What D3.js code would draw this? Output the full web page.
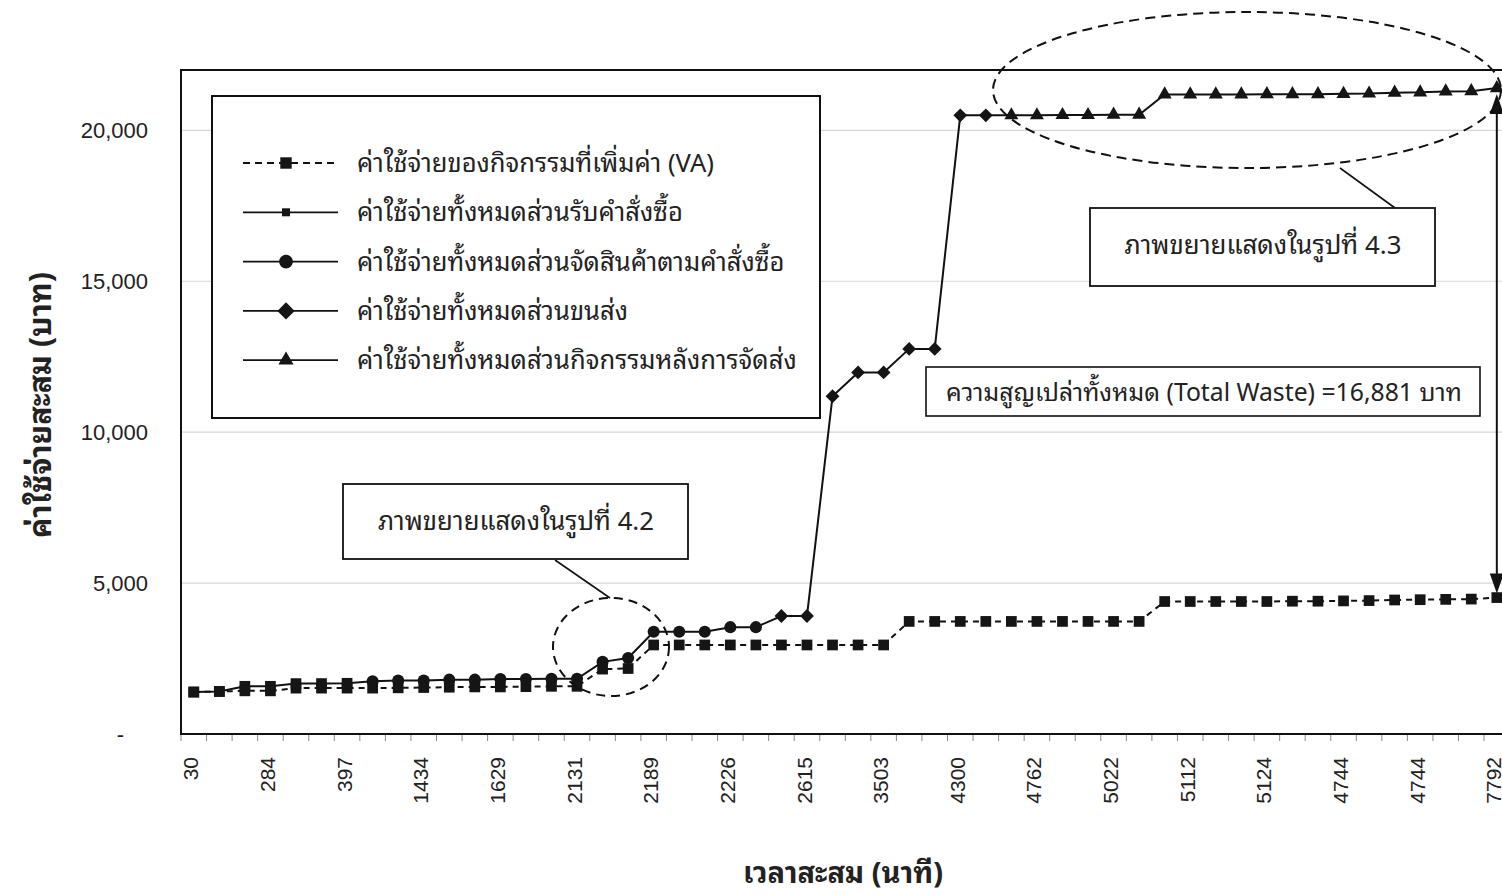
<!DOCTYPE html>
<html>
<head>
<meta charset="utf-8">
<script src="https://cdn.jsdelivr.net/npm/d3@7"></script>
<style>
  html, body { margin: 0; padding: 0; background: #fff; }
  svg { display: block; }
  .thai { font-family: "Noto Sans Thai Looped", "Noto Sans Thai", "Loma", "Garuda", "Tlwg Typo", "Norasi", "Liberation Sans", sans-serif; }
  .num { font-family: "Liberation Sans", Arial, sans-serif; }
</style>
</head>
<body>
<svg id="chart" width="1502" height="895"></svg>
<script>
// ---------------- DATA ----------------
const xTickLabels = ["30","284","397","1434","1629","2131","2189","2226","2615","3503","4300","4762","5022","5112","5124","4744","4744","7792"];
const categoryCount = 52;           // one category per point, labels every 3rd
const labelEvery = 3;

const yTickValues = [0, 5000, 10000, 15000, 20000];

// Value-added cost (dashed, square markers)
const vaCost = [1390,1410,1430,1430,1520,1520,1520,1520,1530,1540,1550,1560,1560,1570,1580,1580,
                2150,2170,
                2950,2950,2950,2950,2950,2950,2950,2950,2950,2950,
                3730,3730,3730,3730,3730,3730,3730,3730,3730,3730,
                4390,4390,4390,4390,4390,4400,4400,4410,4420,4440,4450,4460,4470,4520];

// Total cost, split by activity (each continues the previous one)
const orderStart = 0;
const orderCost = [1390,1410,1580,1580,1670,1670,1680];
const pickStart = 7;
const pickCost = [1750,1770,1770,1800,1800,1820,1820,1830,1830,2390,2520,3390,3390,3390,3540,3540];
const shipStart = 23;
const shipCost = [3910,3910,11190,11980,11980,12760,12760,20500,20500];
const postStart = 32;
const postCost = [20500,20500,20510,20510,20520,20520,21190,21190,21190,21190,21200,21200,21200,21210,21220,21250,21260,21290,21300,21400];

const legendLabels = [
  "ค่าใช้จ่ายของกิจกรรมที่เพิ่มค่า (VA)",
  "ค่าใช้จ่ายทั้งหมดส่วนรับคำสั่งซื้อ",
  "ค่าใช้จ่ายทั้งหมดส่วนจัดสินค้าตามคำสั่งซื้อ",
  "ค่าใช้จ่ายทั้งหมดส่วนขนส่ง",
  "ค่าใช้จ่ายทั้งหมดส่วนกิจกรรมหลังการจัดส่ง"
];
const xTitle = "เวลาสะสม (นาที)";
const yTitle = "ค่าใช้จ่ายสะสม (บาท)";
const note42 = "ภาพขยายแสดงในรูปที่ 4.2";
const note43 = "ภาพขยายแสดงในรูปที่ 4.3";
const noteWaste = "ความสูญเปล่าทั้งหมด (Total Waste) =16,881 บาท";

// ---------------- HELPERS ----------------
// scale a text's font-size so that it spans the given width
function fitWidth(sel, width) {
  const node = sel.node();
  const fs = parseFloat(sel.attr("font-size"));
  const w = node.getComputedTextLength();
  if (w > 0) sel.attr("font-size", (fs * width / w).toFixed(2));
  return parseFloat(sel.attr("font-size"));
}

// ---------------- LAYOUT ----------------
const svg = d3.select("#chart");
svg.append("rect").attr("width", 1502).attr("height", 895).attr("fill", "#fff");

const plot = { left: 181, top: 70, bottom: 734, bandW: 25.55 };
plot.right = plot.left + categoryCount * plot.bandW;

const x = d3.scaleBand().domain(d3.range(categoryCount)).range([plot.left, plot.right]).padding(0);
const cx = i => x(i) + x.bandwidth() / 2;
const y = d3.scaleLinear().domain([0, 22000]).range([plot.bottom, plot.top]);

// gridlines
svg.append("g").selectAll("line").data(yTickValues.filter(d => d > 0)).join("line")
  .attr("x1", plot.left).attr("x2", plot.right)
  .attr("y1", d => y(d)).attr("y2", d => y(d))
  .attr("stroke", "#d6d6d6").attr("stroke-width", 1.2);

// plot frame
svg.append("rect")
  .attr("x", plot.left).attr("y", plot.top)
  .attr("width", plot.right - plot.left).attr("height", plot.bottom - plot.top)
  .attr("fill", "none").attr("stroke", "#111").attr("stroke-width", 2);

// x minor ticks at category boundaries
svg.append("g").selectAll("line").data(d3.range(categoryCount + 1)).join("line")
  .attr("x1", i => plot.left + i * x.step()).attr("x2", i => plot.left + i * x.step())
  .attr("y1", plot.bottom + 1).attr("y2", plot.bottom + 7)
  .attr("stroke", "#888").attr("stroke-width", 1);

// x axis labels
const xAxis = d3.axisBottom(x)
  .tickValues(d3.range(0, categoryCount, labelEvery))
  .tickFormat(i => xTickLabels[i / labelEvery])
  .tickSize(0);
const gx = svg.append("g").attr("transform", `translate(0,${plot.bottom})`).call(xAxis);
gx.select(".domain").remove();
gx.selectAll("text")
  .attr("class", "num")
  .attr("font-size", 21).attr("fill", "#222")
  .attr("transform", "rotate(-90)")
  .attr("text-anchor", "end")
  .attr("x", -23).attr("y", -3).attr("dy", "0.36em");

// y axis labels
const yAxis = d3.axisLeft(y).tickValues(yTickValues)
  .tickFormat(d => d === 0 ? "-" : d3.format(",")(d)).tickSize(0).tickPadding(33);
const gy = svg.append("g").attr("transform", `translate(${plot.left},0)`).call(yAxis);
gy.select(".domain").remove();
gy.selectAll("text").attr("class", "num").attr("font-size", 22).attr("fill", "#222");
gy.selectAll("text").filter(d => d === 0).attr("dx", -24);

// axis titles
const xt = svg.append("text").attr("class", "thai").attr("x", 843).attr("y", 883)
  .attr("text-anchor", "middle").attr("font-size", 26).attr("font-weight", "bold").attr("fill", "#222")
  .text(xTitle);
fitWidth(xt, 200);
const yt = svg.append("text").attr("class", "thai")
  .attr("transform", "translate(40,405) rotate(-90)").attr("dy", "0.35em")
  .attr("text-anchor", "middle").attr("font-size", 26).attr("font-weight", "bold").attr("fill", "#222")
  .text(yTitle);
fitWidth(yt, 266);

// ---------------- SERIES ----------------
const lineGen = d3.line().x(d => cx(d.i)).y(d => y(d.v));

// VA dashed line
const vaPts = vaCost.map((v, i) => ({ i, v }));
svg.append("path").datum(vaPts).attr("d", lineGen)
  .attr("fill", "none").attr("stroke", "#111").attr("stroke-width", 2).attr("stroke-dasharray", "6,5");

// Total cost continuous line built from the four segments
const segments = [
  { start: orderStart, values: orderCost, shape: "square", size: 115 },
  { start: pickStart, values: pickCost, shape: "circle", size: 115 },
  { start: shipStart, values: shipCost, shape: "diamond", size: 95 },
  { start: postStart, values: postCost, shape: "triangle", size: 85 }
];
const shapePath = (shape, size) => {
  if (shape === "square" || shape === "diamond") return d3.symbol(d3.symbolSquare, size)();
  if (shape === "circle") return d3.symbol(d3.symbolCircle, size)();
  return d3.symbol(d3.symbolTriangle, size)();
};
const shapeRot = shape => shape === "diamond" ? " rotate(45)" : "";

const totalPts = segments.flatMap(s => s.values.map((v, k) => ({ i: s.start + k, v, s })));
svg.append("path").datum(totalPts).attr("d", lineGen)
  .attr("fill", "none").attr("stroke", "#111").attr("stroke-width", 2);

// markers
svg.append("g").selectAll("path").data(vaPts).join("path")
  .attr("transform", d => `translate(${cx(d.i)},${y(d.v)})`)
  .attr("d", shapePath("square", 115)).attr("fill", "#151515");
svg.append("g").selectAll("path").data(totalPts).join("path")
  .attr("transform", d => `translate(${cx(d.i)},${y(d.v)})` + shapeRot(d.s.shape))
  .attr("d", d => shapePath(d.s.shape, d.s.size)).attr("fill", "#151515");

// ---------------- LEGEND ----------------
const lg = svg.append("g");
lg.append("rect").attr("x", 212).attr("y", 96).attr("width", 608).attr("height", 322)
  .attr("fill", "#fff").attr("stroke", "#111").attr("stroke-width", 2);
const legendSymbols = [
  { shape: "square", size: 130, dash: "7,5" },
  { shape: "square", size: 64, dash: null },
  { shape: "circle", size: 150, dash: null },
  { shape: "diamond", size: 150, dash: null },
  { shape: "triangle", size: 100, dash: null }
];
let legendFont = null;
legendLabels.forEach((lab, k) => {
  const ly = 163 + k * 49.3;
  const sym = legendSymbols[k];
  lg.append("line").attr("x1", 243).attr("x2", 338).attr("y1", ly).attr("y2", ly)
    .attr("stroke", "#111").attr("stroke-width", 1.8)
    .attr("stroke-dasharray", sym.dash);
  lg.append("path").attr("transform", `translate(286,${ly})` + shapeRot(sym.shape))
    .attr("d", shapePath(sym.shape, sym.size)).attr("fill", "#151515");
  const t = lg.append("text").attr("class", "thai").attr("x", 357).attr("y", ly).attr("dy", "0.35em")
    .attr("font-size", legendFont || 24).attr("fill", "#222").text(lab);
  if (k === 0) legendFont = fitWidth(t, 357);
});

// ---------------- ANNOTATIONS ----------------
const ann = svg.append("g");
// zoom ellipse 4.2
ann.append("ellipse").attr("cx", 611).attr("cy", 647).attr("rx", 58).attr("ry", 49)
  .attr("fill", "none").attr("stroke", "#111").attr("stroke-width", 2).attr("stroke-dasharray", "9,6");
ann.append("line").attr("x1", 555).attr("y1", 560).attr("x2", 610).attr("y2", 598)
  .attr("stroke", "#111").attr("stroke-width", 1.6);
ann.append("rect").attr("x", 343).attr("y", 484).attr("width", 345).attr("height", 75)
  .attr("fill", "#fff").attr("stroke", "#111").attr("stroke-width", 1.8);
const t42 = ann.append("text").attr("class", "thai").attr("x", 516).attr("y", 521).attr("dy", "0.35em")
  .attr("text-anchor", "middle").attr("font-size", 24).attr("fill", "#222").text(note42);
fitWidth(t42, 276);

// zoom ellipse 4.3
ann.append("ellipse").attr("cx", 1247).attr("cy", 90).attr("rx", 254).attr("ry", 78)
  .attr("fill", "none").attr("stroke", "#111").attr("stroke-width", 2).attr("stroke-dasharray", "10,6");
ann.append("line").attr("x1", 1340).attr("y1", 168).attr("x2", 1395).attr("y2", 208)
  .attr("stroke", "#111").attr("stroke-width", 1.6);
ann.append("rect").attr("x", 1090).attr("y", 208).attr("width", 345).attr("height", 78)
  .attr("fill", "#fff").attr("stroke", "#111").attr("stroke-width", 1.8);
const t43 = ann.append("text").attr("class", "thai").attr("x", 1263).attr("y", 245).attr("dy", "0.35em")
  .attr("text-anchor", "middle").attr("font-size", 24).attr("fill", "#222").text(note43);
fitWidth(t43, 277);

// total waste box
ann.append("rect").attr("x", 926).attr("y", 367).attr("width", 554).attr("height", 49)
  .attr("fill", "#fff").attr("stroke", "#111").attr("stroke-width", 1.6);
const tw = ann.append("text").attr("class", "thai").attr("x", 1204).attr("y", 392).attr("dy", "0.35em")
  .attr("text-anchor", "middle").attr("font-size", 24).attr("fill", "#222").text(noteWaste);
fitWidth(tw, 516);

// double arrow from last total point to last VA point
const last = categoryCount - 1;
const ax = cx(last);
const yTop = y(postCost[postCost.length - 1]) + 6;
const yBot = y(vaCost[last]) - 4;
ann.append("line").attr("x1", ax).attr("x2", ax).attr("y1", yTop + 14).attr("y2", yBot - 14)
  .attr("stroke", "#111").attr("stroke-width", 2);
ann.append("path").attr("d", `M${ax},${yTop} L${ax - 7},${yTop + 20} L${ax + 7},${yTop + 20} Z`).attr("fill", "#111");
ann.append("path").attr("d", `M${ax},${yBot} L${ax - 7},${yBot - 20} L${ax + 7},${yBot - 20} Z`).attr("fill", "#111");
</script>
</body>
</html>
